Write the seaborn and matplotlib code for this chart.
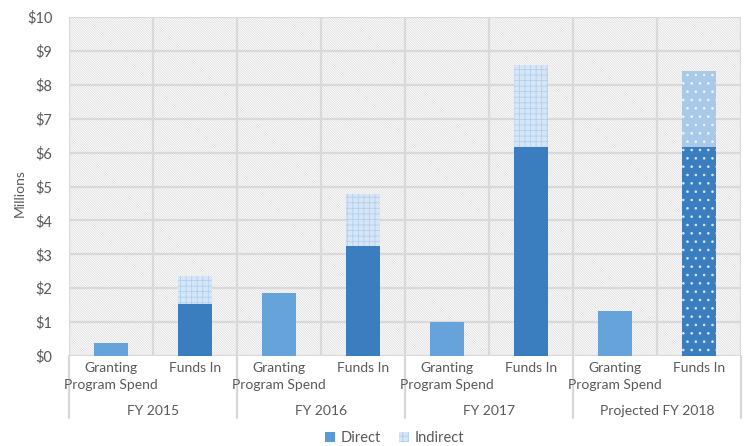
import matplotlib
matplotlib.use("Agg")
import matplotlib.pyplot as plt
import seaborn as sns
import pandas as pd
from matplotlib.patches import Rectangle, Patch

# ---- data ----
groups = ["FY 2015", "FY 2016", "FY 2017", "Projected FY 2018"]
categories = ["Granting\nProgram Spend", "Funds In"]
direct = [0.38, 1.54, 1.86, 3.24, 1.00, 6.17, 1.34, 6.17]
indirect = [0.00, 0.82, 0.00, 1.55, 0.00, 2.41, 0.00, 2.23]
yticks = [0, 1, 2, 3, 4, 5, 6, 7, 8, 9, 10]
ytick_labels = ["$0", "$1", "$2", "$3", "$4", "$5", "$6", "$7", "$8", "$9", "$10"]

keys = [f"{g}|{c}" for g in groups for c in categories]
totals = [d + i for d, i in zip(direct, indirect)]
df = pd.DataFrame({"key": keys, "direct": direct, "total": totals})

sns.set_theme(style="white")
plt.rcParams["font.family"] = ["Lato", "DejaVu Sans"]
plt.rcParams["hatch.linewidth"] = 0.6

GRAY_TXT = "#595959"
GRID = "#d9d9d9"
C_GPS = "#66a3da"
C_DIRECT = "#3a7ebf"
FS = 10

fig = plt.figure(figsize=(7.49, 4.46), dpi=100)
ax = fig.add_axes([69 / 749, (446 - 356) / 446, (741 - 69) / 749, (356 - 17) / 446])

# hatched background
bg = Rectangle((0, 0), 1, 1, transform=ax.transAxes, facecolor="white",
               edgecolor="#dedede", hatch="\\" * 14, linewidth=0, zorder=0)
ax.add_patch(bg)

# bars: totals (indirect layer) then direct on top
sns.barplot(data=df, x="key", y="total", order=keys, width=0.4, color="#dbe9f6",
            saturation=1, ax=ax, zorder=2)
sns.barplot(data=df, x="key", y="direct", order=keys, width=0.4, color=C_DIRECT,
            saturation=1, ax=ax, zorder=3)

tot_bars = list(ax.containers[0])
dir_bars = list(ax.containers[1])
for i, (tb, db) in enumerate(zip(tot_bars, dir_bars)):
    tb.set_linewidth(0)
    db.set_linewidth(0)
    is_gps = (i % 2 == 0)
    is_proj = (i >= 6)
    if is_gps:
        db.set_facecolor(C_GPS)
        tb.set_visible(False)
    else:
        if is_proj:
            tb.set_facecolor("#a9c9e9")
            tb.set_edgecolor("#eef5fc")
            tb.set_hatch("..")
            db.set_facecolor(C_DIRECT)
            db.set_edgecolor("#dde9f6")
            db.set_hatch("..")
        else:
            tb.set_facecolor("#d6e6f6")
            tb.set_edgecolor("#b2d0ee")
            tb.set_hatch("+++")

# grid
for y in yticks:
    ax.axhline(y, color=GRID, lw=1.6, zorder=1)
for x in [i - 0.5 for i in range(9)]:
    ax.axvline(x, color=GRID, lw=1.6, zorder=1)

ax.set_xlim(-0.5, 7.5)
ax.set_ylim(0, 10)
ax.set_yticks(yticks)
ax.set_yticklabels(ytick_labels, color=GRAY_TXT, fontsize=FS + 0.5)
ax.tick_params(axis="y", length=0, pad=12)
ax.set_xticks([])
ax.set_xlabel("")
ax.set_ylabel("Millions", color=GRAY_TXT, fontsize=FS)
ax.yaxis.set_label_coords(-0.064, 0.48)
for s in ax.spines.values():
    s.set_visible(False)

tr = ax.get_xaxis_transform()
ax_h = 356 - 17
for i, k in enumerate(keys):
    cat = categories[i % 2]
    ax.text(i, -6 / ax_h, cat, transform=tr, ha="center", va="top",
            fontsize=FS, color=GRAY_TXT, linespacing=1.5, clip_on=False)
for gi, g in enumerate(groups):
    ax.text(gi * 2 + 0.5, -(411 - 356) / ax_h, g, transform=tr, ha="center",
            va="center", fontsize=FS, color=GRAY_TXT, clip_on=False)
for x in [-0.5, 1.5, 3.5, 5.5, 7.5]:
    ax.plot([x, x], [0, -(418 - 356) / ax_h], transform=tr, color=GRID,
            lw=1.6, clip_on=False)

handles = [Patch(facecolor="#5b9bd5", edgecolor="none", label="Direct"),
           Patch(facecolor="#d6e6f6", edgecolor="#b2d0ee", hatch="+++", lw=0,
                 label="Indirect")]
leg = fig.legend(handles=handles, loc="center", bbox_to_anchor=(0.527, 1 - 438 / 446),
                 ncol=2, frameon=False, fontsize=FS + 0.5, handlelength=0.7,
                 handleheight=0.7, handletextpad=0.4, columnspacing=1.2)
for t in leg.get_texts():
    t.set_color(GRAY_TXT)

fig.savefig("out.png", dpi=100)
